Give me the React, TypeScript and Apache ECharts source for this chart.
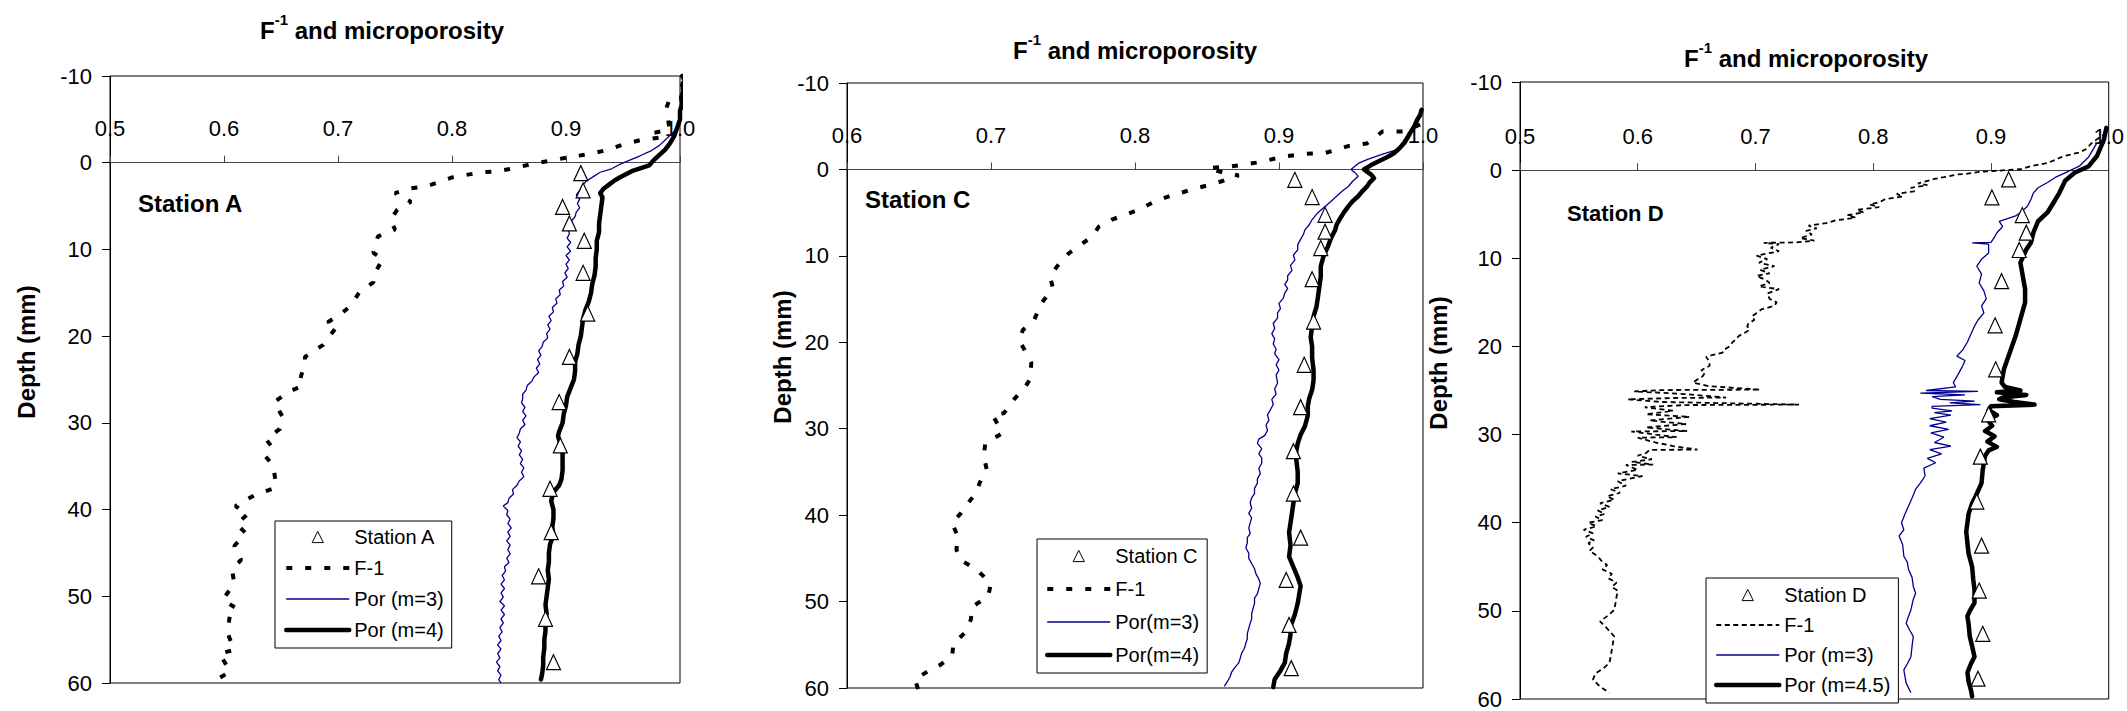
import React, { useEffect, useRef } from "react";
import * as echarts from "echarts";

const FONT = "'Liberation Sans', Arial, Helvetica, sans-serif";

// ---------- Tick settings ----------
const depthMin = -10;
const depthMax = 60;
const depthStep = 10;
const ratioStep = 0.1;
const xMinA = 0.5;
const xMinC = 0.6;
const xMinD = 0.5;
const xMax = 1.0;

// ---------- Station A : [depth (mm), value] ----------
const aStation: [number, number][] = [
  [1.2, 0.913], [3.2, 0.915], [5.1, 0.897], [7.0, 0.903], [9.0, 0.916], [12.7, 0.915],
  [17.4, 0.919], [22.4, 0.903], [27.6, 0.894], [32.6, 0.895], [37.6, 0.886], [42.6, 0.887],
  [47.7, 0.876], [52.6, 0.882], [57.6, 0.889],
];
const aF1: [number, number][] = [
  [-7.0, 0.99], [-6.3, 0.988], [-3.8, 0.991], [-3.4, 0.975], [-2.9, 0.982], [-2.6, 0.965],
  [-2.1, 0.95], [-1.5, 0.937], [-1.0, 0.921], [-0.7, 0.905], [-0.27, 0.888], [0.1, 0.872],
  [0.6, 0.855], [1.0, 0.84], [1.1, 0.826], [1.7, 0.8], [2.7, 0.778], [3.0, 0.762], [3.5, 0.75],
  [4.5, 0.764], [5.4, 0.752], [6.6, 0.746], [7.7, 0.75], [8.5, 0.735], [10.4, 0.731],
  [11.1, 0.7395], [13.0, 0.731], [13.8, 0.731], [14.9, 0.719], [16.5, 0.711], [17.4, 0.703],
  [18.4, 0.691], [18.9, 0.699], [21.0, 0.687], [22.4, 0.671], [23.0, 0.671], [24.9, 0.667],
  [25.7, 0.669], [26.4, 0.657], [27.6, 0.644], [29.2, 0.651], [30.7, 0.649], [31.9, 0.637],
  [32.6, 0.641], [33.8, 0.636], [34.9, 0.643], [36.5, 0.645], [37.5, 0.645], [38.2, 0.629],
  [39.2, 0.615], [39.6, 0.61], [40.5, 0.621], [41.7, 0.611], [42.7, 0.619], [44.2, 0.609],
  [45.8, 0.615], [46.9, 0.607], [48.5, 0.609], [50.4, 0.599], [51.4, 0.611], [52.3, 0.605],
  [54.2, 0.603], [56.2, 0.609], [56.6, 0.596], [57.7, 0.601], [58.7, 0.605], [59.5, 0.595],
];
const aPor3: [number, number][] = [
  [-4.0, 0.998], [-3.0, 0.99], [-2.0, 0.982], [-1.4, 0.975], [-0.8, 0.965], [-0.3, 0.956],
  [0.2, 0.947], [0.7, 0.94], [1.1, 0.93], [1.6, 0.924], [2.1, 0.918], [2.7, 0.914], [3.2, 0.912],
  [3.7, 0.909], [4.2, 0.912], [4.7, 0.91], [5.2, 0.912], [5.7, 0.909], [6.2, 0.908], [6.7, 0.905],
  [7.2, 0.906], [7.7, 0.902], [8.2, 0.903], [8.7, 0.901], [9.2, 0.904], [9.7, 0.901], [10.2, 0.904],
  [10.7, 0.9], [11.2, 0.903], [11.7, 0.9], [12.2, 0.902], [12.7, 0.899], [13.2, 0.901], [13.7, 0.897],
  [14.2, 0.898], [14.7, 0.894], [15.2, 0.895], [15.7, 0.891], [16.2, 0.892], [16.7, 0.888],
  [17.2, 0.889], [17.7, 0.885], [18.2, 0.887], [18.7, 0.884], [19.2, 0.886], [19.7, 0.883],
  [20.2, 0.884], [20.7, 0.88], [21.2, 0.879], [21.7, 0.876], [22.2, 0.878], [22.7, 0.875],
  [23.2, 0.877], [23.7, 0.874], [24.2, 0.876], [24.7, 0.872], [25.2, 0.87], [25.7, 0.866],
  [26.2, 0.865], [26.7, 0.862], [27.2, 0.862], [27.7, 0.861], [28.2, 0.864], [28.7, 0.862],
  [29.2, 0.865], [29.7, 0.862], [30.2, 0.864], [30.7, 0.86], [31.2, 0.859], [31.7, 0.857],
  [32.2, 0.86], [32.7, 0.858], [33.2, 0.861], [33.7, 0.859], [34.2, 0.862], [34.7, 0.86],
  [35.2, 0.863], [35.7, 0.861], [36.2, 0.863], [36.7, 0.859], [37.2, 0.857], [37.7, 0.853],
  [38.2, 0.854], [38.7, 0.85], [39.2, 0.849], [39.6, 0.845], [40.1, 0.849], [40.6, 0.848],
  [41.1, 0.851], [41.6, 0.849], [42.1, 0.852], [42.6, 0.849], [43.1, 0.851], [43.6, 0.848],
  [44.1, 0.851], [44.6, 0.849], [45.1, 0.851], [45.6, 0.848], [46.1, 0.85], [46.6, 0.846],
  [47.1, 0.847], [47.6, 0.844], [48.1, 0.846], [48.6, 0.843], [49.1, 0.846], [49.6, 0.843],
  [50.1, 0.845], [50.6, 0.842], [51.1, 0.846], [51.6, 0.843], [52.1, 0.846], [52.6, 0.843],
  [53.1, 0.845], [53.6, 0.842], [54.1, 0.844], [54.6, 0.841], [55.1, 0.843], [55.6, 0.84],
  [56.1, 0.843], [56.6, 0.84], [57.1, 0.842], [57.6, 0.839], [58.1, 0.842], [58.6, 0.84],
  [59.1, 0.843], [59.6, 0.841], [60.0, 0.843],
];
const aPor4: [number, number][] = [
  [-10.0, 1.002], [-9.5, 1.004], [-9.0, 1.002], [-8.3, 1.003], [-7.5, 1.001], [-6.8, 1.002],
  [-6.0, 1.0], [-5.0, 1.0], [-4.2, 0.998], [-3.1, 0.995], [-2.2, 0.991], [-1.5, 0.987],
  [-0.9, 0.982], [-0.3, 0.977], [0.3, 0.973], [0.9, 0.959], [1.3, 0.953], [1.7, 0.947],
  [2.1, 0.942], [2.5, 0.938], [3.0, 0.933], [3.5, 0.93], [4.0, 0.932], [5.0, 0.931], [6.0, 0.93],
  [7.0, 0.929], [8.0, 0.929], [9.0, 0.927], [10.0, 0.927], [11.0, 0.926], [12.0, 0.926],
  [13.0, 0.925], [14.0, 0.923], [15.0, 0.922], [16.0, 0.92], [17.0, 0.917], [18.0, 0.915],
  [19.0, 0.914], [20.0, 0.913], [21.0, 0.911], [22.0, 0.91], [23.0, 0.908], [24.0, 0.908],
  [25.0, 0.907], [26.0, 0.904], [27.0, 0.901], [28.0, 0.9], [29.0, 0.898], [30.0, 0.897],
  [31.0, 0.894], [31.5, 0.893], [32.5, 0.895], [33.5, 0.897], [34.5, 0.897], [35.5, 0.897],
  [36.5, 0.896], [37.2, 0.894], [38.0, 0.889], [39.0, 0.887], [40.0, 0.889], [41.0, 0.889],
  [42.0, 0.888], [43.0, 0.889], [44.0, 0.886], [45.0, 0.885], [46.0, 0.885], [47.0, 0.884],
  [48.0, 0.885], [49.0, 0.884], [50.0, 0.883], [51.0, 0.882], [52.0, 0.883], [53.0, 0.882],
  [54.0, 0.882], [55.0, 0.881], [56.0, 0.881], [57.0, 0.88], [58.0, 0.88], [59.0, 0.879],
  [59.6, 0.878],
];

// ---------- Station C ----------
const cStation: [number, number][] = [
  [1.2, 0.911], [3.2, 0.923], [5.25, 0.932], [7.2, 0.932], [9.1, 0.929], [12.7, 0.923],
  [17.6, 0.924], [22.6, 0.9175], [27.5, 0.915], [32.6, 0.91], [37.5, 0.91], [42.6, 0.915],
  [47.5, 0.905], [52.7, 0.907], [57.7, 0.9085],
];
const cF1: [number, number][] = [
  [-5.2, 0.998], [-4.4, 0.987], [-4.4, 0.972], [-3.0, 0.961], [-2.7, 0.948], [-1.9, 0.932],
  [-1.8, 0.917], [-1.5, 0.904], [-0.8, 0.885], [-0.35, 0.867], [-0.15, 0.851], [0.4, 0.862],
  [0.7, 0.872], [1.6, 0.856], [2.3, 0.84], [3.1, 0.824], [3.6, 0.815], [4.7, 0.802], [5.8, 0.784],
  [6.6, 0.775], [7.8, 0.77], [9.7, 0.754], [11.2, 0.746], [12.4, 0.741], [13.7, 0.743],
  [15.5, 0.735], [17.4, 0.73], [18.6, 0.722], [19.9, 0.72], [21.1, 0.724], [22.4, 0.728],
  [24.3, 0.727], [25.1, 0.724], [26.6, 0.716], [28.2, 0.709], [28.4, 0.701], [30.5, 0.708],
  [31.7, 0.696], [33.2, 0.695], [34.7, 0.697], [36.3, 0.692], [37.4, 0.69], [38.4, 0.685],
  [39.8, 0.679], [40.9, 0.673], [42.5, 0.677], [44.0, 0.676], [45.2, 0.679], [46.3, 0.69],
  [47.9, 0.7], [49.4, 0.698], [50.6, 0.687], [52.1, 0.686], [53.6, 0.682], [54.8, 0.674],
  [56.3, 0.673], [57.3, 0.665], [57.9, 0.658], [59.0, 0.647], [60.4, 0.65],
];
const cPor3: [number, number][] = [
  [-4.2, 0.99], [-3.2, 0.986], [-2.3, 0.982], [-1.7, 0.971], [-1.2, 0.962], [-0.7, 0.955],
  [0.0, 0.95], [0.4, 0.953], [0.8, 0.955], [1.4, 0.951], [2.0, 0.948], [2.5, 0.944], [3.1, 0.94],
  [3.7, 0.936], [4.3, 0.932], [5.0, 0.927], [5.8, 0.923], [6.4, 0.921], [7.0, 0.918], [7.5, 0.917],
  [8.1, 0.915], [8.7, 0.913], [9.3, 0.913], [9.9, 0.91], [10.5, 0.911], [11.1, 0.908], [11.7, 0.909],
  [12.3, 0.906], [12.8, 0.906], [13.3, 0.904], [13.8, 0.906], [14.3, 0.904], [14.9, 0.903],
  [15.5, 0.9], [16.1, 0.901], [16.6, 0.899], [17.2, 0.899], [17.8, 0.896], [18.4, 0.897],
  [19.0, 0.895], [19.6, 0.897], [20.2, 0.896], [20.8, 0.898], [21.3, 0.897], [22.0, 0.9],
  [22.6, 0.898], [23.2, 0.9], [23.8, 0.898], [24.7, 0.899], [25.4, 0.897], [26.0, 0.898],
  [26.6, 0.895], [27.2, 0.896], [27.8, 0.894], [28.4, 0.892], [29.0, 0.893], [29.6, 0.891],
  [30.2, 0.892], [30.8, 0.89], [31.2, 0.886], [31.7, 0.885], [32.3, 0.888], [32.9, 0.886],
  [33.4, 0.888], [34.0, 0.888], [34.6, 0.886], [35.2, 0.887], [35.8, 0.885], [36.3, 0.885],
  [36.9, 0.883], [37.5, 0.883], [38.0, 0.881], [38.6, 0.88], [39.2, 0.881], [39.8, 0.879],
  [40.3, 0.881], [40.9, 0.88], [41.5, 0.879], [42.1, 0.88], [42.6, 0.878], [43.2, 0.878],
  [43.8, 0.877], [44.4, 0.879], [45.0, 0.879], [45.6, 0.881], [46.2, 0.883], [46.8, 0.884],
  [47.4, 0.886], [47.9, 0.887], [48.5, 0.886], [49.1, 0.885], [49.6, 0.883], [50.2, 0.883],
  [50.8, 0.882], [51.4, 0.881], [52.0, 0.881], [52.5, 0.88], [53.1, 0.879], [53.7, 0.878],
  [54.3, 0.878], [54.8, 0.877], [55.4, 0.876], [56.0, 0.874], [56.6, 0.873], [57.1, 0.872],
  [57.7, 0.869], [58.2, 0.867], [58.7, 0.866], [59.3, 0.864], [59.8, 0.862],
];
const cPor4: [number, number][] = [
  [-6.9, 0.999], [-6.3, 0.998], [-5.75, 0.996], [-5.0, 0.994], [-4.2, 0.991], [-3.6, 0.989],
  [-3.05, 0.987], [-2.5, 0.984], [-1.9, 0.98], [-1.5, 0.976], [-1.1, 0.971], [-0.5, 0.964],
  [0.0, 0.959], [0.6, 0.964], [1.0, 0.966], [1.5, 0.963], [2.0, 0.961], [2.5, 0.958], [3.1, 0.955],
  [3.7, 0.951], [4.3, 0.948], [5.0, 0.945], [5.8, 0.942], [6.4, 0.94], [7.0, 0.939], [8.0, 0.936],
  [8.9, 0.934], [10.0, 0.931], [11.2, 0.929], [12.4, 0.929], [13.6, 0.928], [14.8, 0.927],
  [15.9, 0.926], [17.0, 0.924], [18.2, 0.923], [19.4, 0.922], [20.5, 0.923], [21.8, 0.923],
  [23.2, 0.924], [24.4, 0.924], [25.5, 0.923], [26.5, 0.921], [27.4, 0.92], [28.5, 0.92],
  [29.7, 0.918], [30.7, 0.915], [31.7, 0.913], [32.6, 0.912], [33.6, 0.912], [35.0, 0.913],
  [36.3, 0.913], [37.5, 0.911], [38.6, 0.91], [39.8, 0.909], [40.9, 0.908], [42.0, 0.907],
  [43.5, 0.908], [44.8, 0.907], [46.0, 0.91], [47.2, 0.913], [48.2, 0.915], [49.2, 0.914],
  [50.2, 0.913], [51.5, 0.911], [52.9, 0.908], [53.8, 0.908], [54.8, 0.907], [56.0, 0.905],
  [57.1, 0.904], [58.0, 0.901], [59.0, 0.897], [59.9, 0.896],
];

// ---------- Station D ----------
const dStation: [number, number][] = [
  [1.06, 0.915], [3.1, 0.9008], [5.1, 0.9266], [7.1, 0.93], [9.06, 0.924], [12.6, 0.909],
  [17.6, 0.9035], [22.6, 0.904], [27.7, 0.898], [32.5, 0.891], [37.6, 0.888], [42.6, 0.892],
  [47.7, 0.89], [52.6, 0.893], [57.7, 0.889],
];
const dF1: [number, number][] = [
  [-4.2, 0.998], [-3.5, 0.99], [-3.0, 0.985], [-2.4, 0.981], [-2.0, 0.975], [-1.6, 0.962],
  [-1.2, 0.955], [-0.8, 0.948], [-0.5, 0.935], [-0.1, 0.925], [0.1, 0.901], [0.2, 0.89],
  [0.4, 0.88], [0.5, 0.871], [0.8, 0.86], [1.0, 0.852], [1.2, 0.847], [1.5, 0.838], [1.7, 0.846],
  [2.0, 0.832], [2.4, 0.835], [2.7, 0.82], [3.0, 0.825], [3.3, 0.81], [3.6, 0.806], [3.9, 0.797],
  [4.2, 0.805], [4.5, 0.786], [4.8, 0.792], [5.1, 0.778], [5.4, 0.785], [5.7, 0.768], [6.0, 0.76],
  [6.3, 0.745], [6.6, 0.752], [6.9, 0.743], [7.3, 0.748], [7.7, 0.738], [8.0, 0.75], [8.2, 0.735],
  [8.25, 0.707], [8.4, 0.72], [8.8, 0.713], [9.2, 0.72], [9.7, 0.701], [10.1, 0.71], [10.5, 0.703],
  [10.9, 0.716], [11.3, 0.704], [11.7, 0.712], [12.0, 0.701], [12.4, 0.708], [12.8, 0.712],
  [13.2, 0.703], [13.5, 0.72], [14.0, 0.71], [14.6, 0.712], [15.0, 0.718], [15.4, 0.716],
  [15.8, 0.705], [16.2, 0.701], [16.6, 0.697], [17.0, 0.699], [17.4, 0.694], [17.7, 0.693],
  [18.1, 0.695], [18.4, 0.6917], [18.8, 0.686], [19.2, 0.683], [19.6, 0.68], [20.0, 0.678],
  [20.4, 0.673], [20.7, 0.672], [21.0, 0.663], [21.2, 0.658], [21.7, 0.661], [22.2, 0.661],
  [22.7, 0.654], [23.0, 0.657], [23.4, 0.655], [23.8, 0.65], [24.1, 0.647], [24.5, 0.66],
  [24.9, 0.704], [24.95, 0.62], [25.1, 0.597], [25.4, 0.64], [25.8, 0.675], [25.85, 0.63],
  [26.0, 0.5915], [26.3, 0.62], [26.6, 0.737], [26.65, 0.64], [26.9, 0.606], [27.3, 0.63],
  [27.7, 0.607], [28.0, 0.644], [28.4, 0.61], [28.8, 0.641], [29.2, 0.607], [29.6, 0.642],
  [29.65, 0.5946], [30.0, 0.615], [30.3, 0.633], [30.35, 0.6], [30.9, 0.615], [31.3, 0.63],
  [31.7, 0.6507], [31.75, 0.61], [32.1, 0.607], [32.4, 0.6], [32.8, 0.612], [33.1, 0.595],
  [33.4, 0.613], [33.45, 0.59], [34.0, 0.6], [34.4, 0.583], [34.7, 0.604], [35.3, 0.583],
  [35.8, 0.59], [36.2, 0.577], [36.6, 0.585], [37.0, 0.574], [37.4, 0.58], [37.8, 0.568],
  [38.2, 0.576], [38.6, 0.566], [39.0, 0.572], [39.3, 0.564], [39.7, 0.57], [40.0, 0.558],
  [40.4, 0.565], [40.8, 0.554], [41.2, 0.562], [41.6, 0.556], [42.0, 0.563], [42.3, 0.558],
  [42.8, 0.562], [43.2, 0.559], [43.8, 0.566], [44.3, 0.569], [44.8, 0.574], [45.3, 0.57],
  [45.8, 0.578], [46.3, 0.575], [46.8, 0.582], [47.3, 0.578], [47.7, 0.583], [48.4, 0.582],
  [49.2, 0.581], [49.9, 0.58], [50.5, 0.575], [51.2, 0.568], [51.6, 0.571], [52.0, 0.574],
  [52.9, 0.58], [53.6, 0.579], [54.4, 0.578], [55.2, 0.577], [55.9, 0.576], [56.5, 0.571],
  [57.1, 0.564], [57.8, 0.562], [58.6, 0.568], [59.3, 0.576],
];
const dPor3: [number, number][] = [
  [-3.1, 0.99], [-1.5, 0.983], [-0.45, 0.975], [0.3, 0.963], [0.8, 0.955], [1.4, 0.948], [2.0, 0.94],
  [2.6, 0.936], [3.3, 0.934], [4.1, 0.931], [4.7, 0.926], [5.2, 0.921], [5.8, 0.907], [6.4, 0.91],
  [7.1, 0.905], [7.6, 0.903], [8.2, 0.9], [8.25, 0.884], [8.4, 0.898], [9.4, 0.898], [10.1, 0.892],
  [10.9, 0.888], [11.8, 0.892], [12.8, 0.89], [13.7, 0.894], [14.6, 0.896], [15.4, 0.892],
  [16.2, 0.894], [17.0, 0.889], [17.7, 0.886], [18.6, 0.883], [19.5, 0.88], [20.4, 0.876],
  [21.1, 0.871], [21.6, 0.878], [22.2, 0.876], [23.2, 0.872], [24.1, 0.868], [24.6, 0.87],
  [25.0, 0.845], [25.1, 0.889], [25.3, 0.84], [25.5, 0.878], [25.7, 0.85], [26.0, 0.857],
  [26.2, 0.886], [26.4, 0.865], [26.6, 0.891], [26.8, 0.85], [27.0, 0.85], [27.3, 0.867],
  [27.5, 0.852], [27.8, 0.866], [28.2, 0.848], [28.6, 0.862], [29.0, 0.848], [29.4, 0.864],
  [29.8, 0.849], [30.3, 0.86], [30.9, 0.852], [31.3, 0.866], [31.7, 0.848], [32.2, 0.858],
  [32.7, 0.846], [33.2, 0.853], [33.8, 0.843], [34.7, 0.844], [35.5, 0.84], [36.2, 0.836],
  [37.2, 0.833], [38.1, 0.83], [39.0, 0.827], [40.0, 0.824], [40.8, 0.826], [41.5, 0.822],
  [42.5, 0.825], [43.8, 0.826], [44.5, 0.829], [45.3, 0.83], [46.2, 0.833], [47.2, 0.834],
  [48.0, 0.836], [48.7, 0.834], [49.9, 0.832], [50.6, 0.83], [51.4, 0.828], [52.2, 0.831],
  [52.9, 0.834], [54.0, 0.833], [55.2, 0.832], [56.0, 0.829], [56.7, 0.826], [57.5, 0.827],
  [58.2, 0.828], [59.3, 0.832],
];
const dPor45: [number, number][] = [
  [-4.8, 0.998], [-3.5, 0.996], [-1.6, 0.99], [-0.45, 0.983], [0.3, 0.971], [1.2, 0.963],
  [2.6, 0.958], [3.5, 0.954], [4.8, 0.948], [5.8, 0.94], [7.1, 0.936], [8.2, 0.934], [9.0, 0.93],
  [10.5, 0.925], [12.0, 0.927], [13.5, 0.929], [15.0, 0.929], [16.9, 0.925], [18.8, 0.921],
  [20.7, 0.916], [22.6, 0.911], [24.1, 0.909], [24.6, 0.912], [25.0, 0.925], [25.2, 0.905],
  [25.5, 0.93], [25.8, 0.91], [26.0, 0.907], [26.3, 0.92], [26.6, 0.937], [26.8, 0.9],
  [27.2, 0.898], [27.8, 0.905], [28.3, 0.897], [29.0, 0.901], [29.6, 0.895], [30.2, 0.903],
  [30.8, 0.897], [31.4, 0.905], [31.8, 0.898], [32.4, 0.895], [33.2, 0.894], [34.0, 0.893],
  [35.5, 0.892], [37.0, 0.887], [37.8, 0.884], [39.0, 0.881], [40.0, 0.88], [41.0, 0.879],
  [42.3, 0.88], [43.5, 0.881], [45.0, 0.884], [46.5, 0.885], [47.6, 0.886], [49.1, 0.886],
  [50.0, 0.882], [50.6, 0.88], [51.5, 0.881], [52.9, 0.882], [54.0, 0.884], [55.2, 0.886],
  [56.0, 0.883], [57.0, 0.88], [58.0, 0.881], [59.0, 0.883], [59.7, 0.884],
];

// ---------- Legend labels ----------
const aNames = ["Station A", "F-1", "Por (m=3)", "Por (m=4)"];
const cNames = ["Station C", "F-1", "Por(m=3)", "Por(m=4)"];
const dNames = ["Station D", "F-1", "Por (m=3)", "Por (m=4.5)"];

const toXY = (arr: [number, number][]) => arr.map(([d, v]) => [v, d]);

type PanelSpec = {
  key: string;
  names: string[];
  station: [number, number][];
  f1: [number, number][];
  por3: [number, number][];
  por4: [number, number][];
  f1Style: any;
};

const panels: PanelSpec[] = [
  { key: "A", names: aNames, station: aStation, f1: aF1, por3: aPor3, por4: aPor4,
    f1Style: { color: "#000", width: 4, type: [6, 13], cap: "butt" } },
  { key: "C", names: cNames, station: cStation, f1: cF1, por3: cPor3, por4: cPor4,
    f1Style: { color: "#000", width: 4, type: [6, 13], cap: "butt" } },
  { key: "D", names: dNames, station: dStation, f1: dF1, por3: dPor3, por4: dPor45,
    f1Style: { color: "#000", width: 1.8, type: [5, 3.5], cap: "butt" } },
];

const grids = [
  { left: 110, top: 76, width: 570, height: 607 },
  { left: 847, top: 83, width: 576, height: 605 },
  { left: 1520, top: 82, width: 592, height: 617 },
];
const xMins = [xMinA, xMinC, xMinD];

const legendPos = [
  { left: 275, top: 521, padding: [6, 8, 8, 9], itemGap: 11 },
  { left: 1037, top: 539, padding: [7, 8, 8, 8], itemGap: 13 },
  { left: 1706, top: 578, padding: [7, 8, 8, 8], itemGap: 10 },
];

const titlePos = [
  { x: 382, y: 27 },
  { x: 1135, y: 47 },
  { x: 1806, y: 55 },
];
const stationPos = [
  { x: 138, y: 203, size: 24 },
  { x: 865, y: 199, size: 24 },
  { x: 1567, y: 213, size: 22 },
];
const depthNamePos = [
  { x: 26, y: 352 },
  { x: 782, y: 357 },
  { x: 1438, y: 363 },
];

const POR4_W = 4.5;
const POR3_W = 1.3;

function buildOption() {
  const series: any[] = [];
  const legends: any[] = [];
  panels.forEach((p, i) => {
    const n = (s: string) => `${p.key}|${s}`;
    series.push({
      type: "line", name: n(p.names[1]), xAxisIndex: i, yAxisIndex: i,
      data: toXY(p.f1), symbol: "none", lineStyle: p.f1Style, z: 2,
    });
    series.push({
      type: "line", name: n(p.names[2]), xAxisIndex: i, yAxisIndex: i,
      data: toXY(p.por3), symbol: "none", lineStyle: { color: "#000090", width: POR3_W }, z: 3,
    });
    series.push({
      type: "line", name: n(p.names[3]), xAxisIndex: i, yAxisIndex: i,
      data: toXY(p.por4), symbol: "none", clip: false,
      lineStyle: { color: "#000", width: POR4_W, join: "round", cap: "round" }, z: 4,
    });
    // station samples: markers only (connecting line is transparent)
    series.push({
      type: "line", name: n(p.names[0]), xAxisIndex: i, yAxisIndex: i,
      data: toXY(p.station), symbol: "triangle", symbolSize: [14, 15],
      showSymbol: true, showAllSymbol: true,
      lineStyle: { width: 0, color: "transparent" },
      itemStyle: { color: "#fff", borderColor: "#000", borderWidth: 1.2 }, z: 5,
    });
    const lp = legendPos[i];
    legends.push({
      show: true, orient: "vertical", left: lp.left, top: lp.top, padding: lp.padding,
      itemGap: lp.itemGap, itemWidth: 63, itemHeight: 14, selectedMode: false,
      borderColor: "#000", borderWidth: 1, backgroundColor: "#fff", borderRadius: 0,
      data: [
        { name: n(p.names[0]), itemStyle: { borderWidth: 1, color: "#fff", borderColor: "#000" }, lineStyle: { width: 0, opacity: 0 } },
        { name: n(p.names[1]), itemStyle: { opacity: 0 }, lineStyle: { width: p.f1Style.width } },
        { name: n(p.names[2]), itemStyle: { opacity: 0 }, lineStyle: { width: POR3_W } },
        { name: n(p.names[3]), itemStyle: { opacity: 0 }, lineStyle: { width: POR4_W } },
      ],
      formatter: (name: string) => name.split("|")[1],
      textStyle: { fontSize: 20, color: "#000", fontFamily: FONT, lineHeight: 20 },
    });
  });

  const xAxes = grids.map((g, i) => ({
    type: "value", gridIndex: i, min: xMins[i], max: xMax, interval: ratioStep, position: "top",
    // axis drawn where depth = 0
    offset: -(g.height * (0 - depthMin)) / (depthMax - depthMin),
    axisLine: { show: true, onZero: false, lineStyle: { color: "#444", width: 1 } },
    axisTick: { show: true, length: 7, lineStyle: { color: "#444", width: 1 } },
    axisLabel: { formatter: (v: number) => v.toFixed(1), margin: 23, fontSize: 22, color: "#000", fontFamily: FONT },
    splitLine: { show: false },
  }));
  const yAxes = grids.map((_, i) => ({
    type: "value", gridIndex: i, inverse: true, min: depthMin, max: depthMax, interval: depthStep,
    axisLine: { show: true, onZero: false, lineStyle: { color: "#000", width: 1 } },
    axisTick: { show: true, length: 8, lineStyle: { color: "#000", width: 1 } },
    axisLabel: { margin: 18, fontSize: 22, color: "#000", fontFamily: FONT },
    splitLine: { show: false },
  }));

  const graphics: any[] = [];
  panels.forEach((p, i) => {
    graphics.push({
      type: "text", x: titlePos[i].x, y: titlePos[i].y,
      style: {
        text: "{b|F}{s|-1}{b| and microporosity}",
        align: "center", verticalAlign: "middle", textAlign: "center", textVerticalAlign: "middle",
        fill: "#000",
        rich: {
          b: { fontSize: 24, fontWeight: "bold", fontFamily: FONT, fill: "#000", lineHeight: 30, verticalAlign: "bottom" },
          s: { fontSize: 15, fontWeight: "bold", fontFamily: FONT, fill: "#000", lineHeight: 15, verticalAlign: "top" },
        },
      },
    });
    graphics.push({
      type: "text", x: stationPos[i].x, y: stationPos[i].y,
      style: {
        text: p.names[0], fill: "#000", font: `bold ${stationPos[i].size}px ${FONT}`,
        verticalAlign: "middle", textVerticalAlign: "middle",
      },
    });
    graphics.push({
      type: "text", x: depthNamePos[i].x, y: depthNamePos[i].y, rotation: Math.PI / 2,
      style: {
        text: "Depth (mm)", fill: "#000", font: `bold 24px ${FONT}`,
        align: "center", verticalAlign: "middle", textAlign: "center", textVerticalAlign: "middle",
      },
    });
  });

  return {
    animation: false,
    backgroundColor: "#fff",
    grid: grids.map((g) => ({ ...g, show: true, borderColor: "#000", borderWidth: 1, backgroundColor: "transparent", containLabel: false })),
    xAxis: xAxes,
    yAxis: yAxes,
    legend: legends,
    series,
    graphic: graphics,
  };
}

export default function App() {
  const ref = useRef<HTMLDivElement>(null);
  useEffect(() => {
    if (!ref.current) return;
    const chart = echarts.init(ref.current, undefined, { renderer: "svg" });
    chart.setOption(buildOption() as any);
    return () => chart.dispose();
  }, []);
  return (
    <div
      ref={ref}
      style={{ position: "fixed", left: 0, top: 0, width: 2127, height: 711, background: "#fff" }}
    />
  );
}
